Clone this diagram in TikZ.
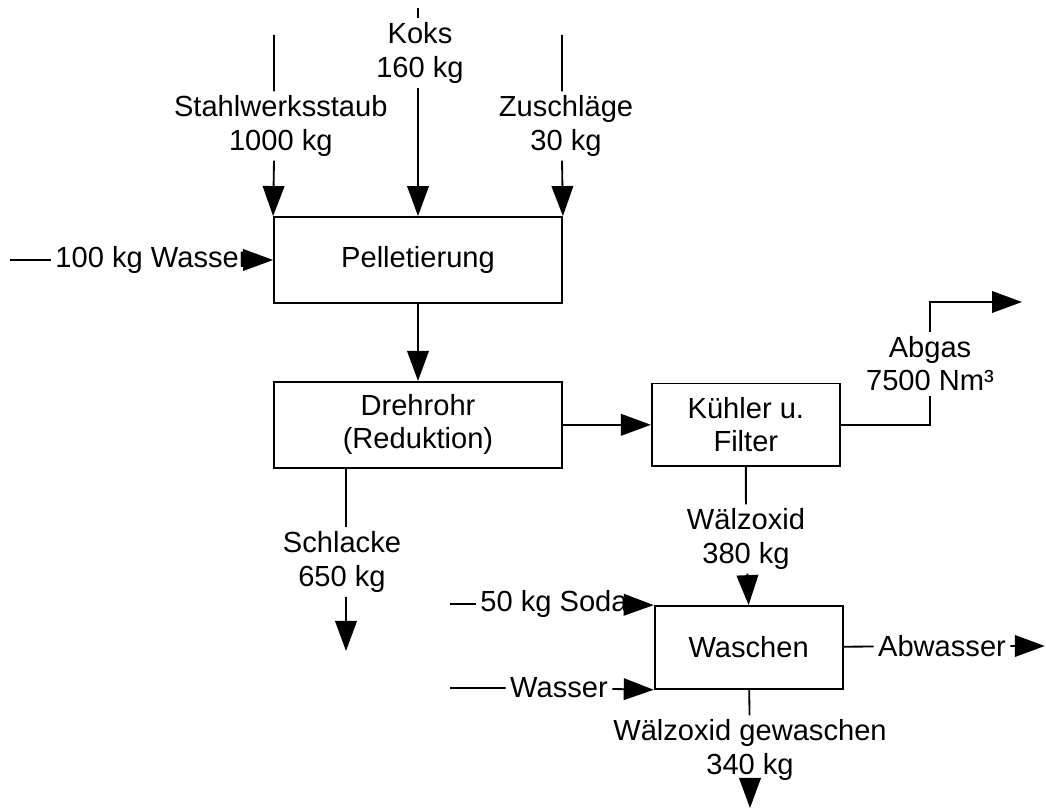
\documentclass[tikz,border=0pt]{standalone}
\usepackage{fontspec}
\setmainfont{Liberation Sans}
\usetikzlibrary{arrows.meta, positioning}

\begin{document}
\begin{tikzpicture}[
node distance=1.9cm,
box/.style={
rectangle,
draw,
line width=1.3pt,
minimum width=7.2cm,
minimum height=2.15cm,
align=center,
font=\fontsize{20.7}{23.5}\selectfont
},
smallbox/.style={
box,
minimum width=4.7cm,
minimum height=2.07cm
},
flowlbl/.style={
align=center,
inner sep=3pt,
font=\fontsize{20.7}{23.5}\selectfont
},
arrow/.style={-{Triangle[length=0.75cm,width=0.54cm]},line width=1.3pt}
]
\useasboundingbox (0,0) rectangle (26.15,20.275);

% Boxes
\node[box] (pell) at (10.45,13.775) {Pelletierung};
\node[box,below=1.925cm of pell] (dreh) {Drehrohr\\(Reduktion)};
\node[smallbox,right=2.2cm of dreh] (kuehl) {Kühler u.\\Filter};
\node[smallbox,below=3.45cm of kuehl,xshift=0.07cm] (wasch) {Waschen};

% Inputs Pelletierung
\coordinate (stahlin) at (6.85,19.4);
\coordinate (koksin) at (10.45,20.075);
\coordinate (zuin) at (14.05,19.4);
\coordinate (wasin) at (0.25,13.775);
\node[flowlbl] (stahl) at (7.02,17.125) {Stahlwerksstaub\\1000 kg};
\node[flowlbl] (koks) at (10.5,18.95) {Koks\\160 kg};
\node[flowlbl] (zu) at (14.15,17.125) {Zuschläge\\30 kg};
\node[flowlbl] (was) at (3.8,13.775) {100 kg Wasser};

% Outputs
\coordinate (abgasout) at (25.55,12.725);
\coordinate (schlout) at (8.65,4.0);
\coordinate (abwout) at (26.12,4.125);
\coordinate (gewout) at (18.75,0.075);
\node[flowlbl] (abgas) at (23.25,11.175) {Abgas\\7500 Nm³};
\node[flowlbl] (schl) at (8.55,6.225) {Schlacke\\650 kg};
\node[flowlbl] (woxid) at (18.65,6.8) {Wälzoxid\\380 kg};
\node[flowlbl] (abw) at (23.55,4.125) {Abwasser};
\node[flowlbl] (gew) at (18.75,1.525) {Wälzoxid gewaschen\\340 kg};

% Inputs Waschen
\coordinate (sodain) at (11.25,5.175);
\coordinate (was2in) at (11.25,3.075);
\node[flowlbl] (soda) at (13.85,5.175) {50 kg Soda};
\node[flowlbl] (was2) at (13.975,3.075) {Wasser};

% Arrows
\draw[arrow] (stahlin) -- (stahlin |- stahl.north) (stahlin |- stahl.south) -- (pell.north west);
\draw[arrow] (koksin) -- (koksin |- koks.north) (koksin |- koks.south) -- (pell.north);
\draw[arrow] (zuin) -- (zuin |- zu.north) (zuin |- zu.south) -- (pell.north east);
\draw[arrow] (wasin) -- (was) -- (pell.west);
\draw[arrow] (pell) -- (dreh);
\draw[arrow] (dreh) -- (kuehl);
\draw[arrow] (kuehl.east) -| (abgas) |- (abgasout);
\draw[arrow] (dreh.south -| schlout) -- (schlout |- schl.north) (schlout |- schl.south) -- (schlout);
\draw[arrow] (kuehl.south) -- (woxid) -- (wasch.north);
\draw[arrow] (sodain) -- (soda) -- (wasch.north west);
\draw[arrow] (was2in) -- (was2) -- (wasch.south west);
\draw[arrow] (wasch) -- (abw) -- (abwout);
\draw[arrow] (wasch) -- (gew) -- (gewout);

\end{tikzpicture}
\end{document}
